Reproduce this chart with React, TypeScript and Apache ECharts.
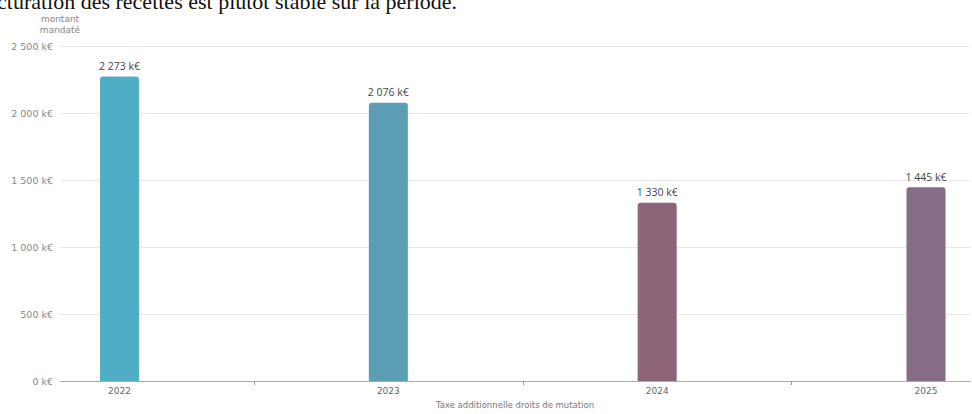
import React, { useEffect, useRef } from "react";
import * as echarts from "echarts";

const years = ["2022", "2023", "2024", "2025"];
const values = [2273, 2076, 1330, 1445];
const barColors = ["#50adc6", "#5a9db5", "#8e6479", "#866c86"];
const yTicks = [0, 500, 1000, 1500, 2000, 2500];
const headline = "cturation des recettes est plutôt stable sur la période.";
const axisTitle = "Taxe additionnelle droits de mutation";
const yName = "montant\nmandaté";

const fmt = (v: number) => {
  const s = Math.round(v).toString();
  return s.replace(/\B(?=(\d{3})+(?!\d))/g, " ") + " k€";
};

export default function App() {
  const ref = useRef<HTMLDivElement>(null);
  useEffect(() => {
    document.body.style.margin = "0";
    const chart = echarts.init(ref.current!, null, { renderer: "svg" });
    const font = "'DejaVu Sans', sans-serif";
    chart.setOption({
      animation: false,
      grid: { left: 60, right: 2, top: 46, bottom: 26 },
      graphic: [
        {
          type: "text",
          left: -3,
          top: -10,
          z: -1,
          style: {
            text: headline,
            font: "22px 'Liberation Serif', serif",
            fill: "#111",
          },
        },
      ],
      xAxis: {
        type: "value",
        min: 1 - 59.5 / 268.8,
        max: 4 + 44 / 268.8,
        name: axisTitle,
        nameLocation: "middle",
        nameGap: 19,
        nameTextStyle: { color: "#777", fontSize: 8.5, fontFamily: font },
        axisLine: { show: true, lineStyle: { color: "#aaa", width: 1 } },
        axisTick: {
          show: true,
          customValues: [1.5, 2.5, 3.5],
          length: 4,
          lineStyle: { color: "#999" },
        },
        axisLabel: {
          customValues: [1, 2, 3, 4],
          formatter: (v: number) => years[Math.round(v) - 1] ?? "",
          color: "#666",
          fontSize: 9,
          fontFamily: font,
          margin: 5,
        },
        splitLine: { show: false },
      },
      yAxis: {
        type: "value",
        min: yTicks[0],
        max: yTicks[yTicks.length - 1],
        interval: 500,
        name: yName,
        nameLocation: "end",
        nameGap: 11,
        nameTextStyle: {
          color: "#888",
          fontSize: 9,
          fontFamily: font,
          align: "center",
          lineHeight: 11,
        },
        axisLine: { show: false },
        axisTick: { show: false },
        axisLabel: {
          formatter: (v: number) => fmt(v),
          color: "#888",
          fontSize: 9.5,
          fontFamily: font,
          margin: 7,
        },
        splitLine: { lineStyle: { color: "#e8e8ec", width: 1 } },
      },
      series: [
        {
          type: "bar",
          barWidth: 39,
          data: values.map((v, i) => ({
            value: [i + 1, v],
            itemStyle: { color: barColors[i], borderRadius: [3, 3, 0, 0] },
          })),
          label: {
            show: true,
            position: "top",
            distance: 5,
            formatter: (p: any) => fmt(p.value[1]),
            color: "#444",
            fontSize: 10.5,
            fontFamily: "'Open Sans', sans-serif",
          },
        },
      ],
    });
    return () => chart.dispose();
  }, []);
  return (
    <div
      ref={ref}
      style={{ position: "absolute", left: 0, top: 0, width: 972, height: 414 }}
    />
  );
}
